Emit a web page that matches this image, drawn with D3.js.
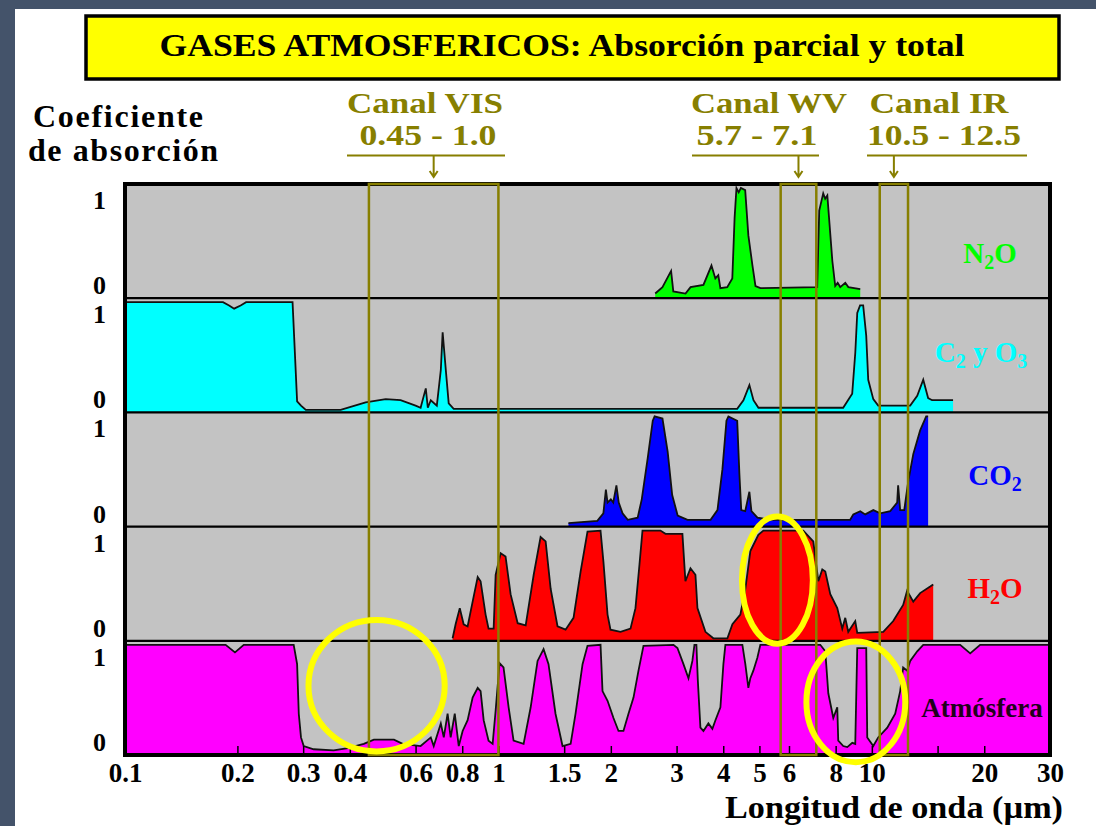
<!DOCTYPE html>
<html>
<head>
<meta charset="utf-8">
<script src="https://cdn.jsdelivr.net/npm/d3@7"></script>
<style>
body { margin: 0; background: #44536a; }
svg { display: block; font-family: "Liberation Serif", "Times New Roman", serif; font-weight: bold; }
</style>
</head>
<body>
<svg id="chart" width="1096" height="826"></svg>
<script>
// ---- data (wavelength in µm, absorption 0..1) ----
const TICK_LABELS = [0.1, 0.2, 0.3, 0.4, 0.6, 0.8, 1, 1.5, 2, 3, 4, 5, 6, 8, 10, 20, 30];
const TICK_MARKS = [0.2, 0.3, 0.4, 0.6, 0.8, 1, 1.5, 2, 3, 4, 5, 6, 8, 10, 15, 20];

const GASES = ["n2o", "o3", "co2", "h2o", "atm"];
const GAS_COLORS = ["#00ff00", "#00ffff", "#0000ff", "#ff0000", "#ff00ff"];
// label parts: [text, isSubscript]
const GAS_NAMES = [
  [["N", 0], ["2", 1], ["O", 0]],
  [["C", 0], ["2", 1], [" y O", 0], ["3", 1]],
  [["CO", 0], ["2", 1]],
  [["H", 0], ["2", 1], ["O", 0]],
  [["Atmósfera", 0]]
];

const N2O = [[2.63,0.02],[2.75,0.08],[2.9,0.23],[2.94,0.04],[3.17,0.02],[3.27,0.08],[3.54,0.10],[3.72,0.28],
  [3.81,0.16],[3.88,0.19],[3.93,0.07],[4.10,0.08],[4.23,0.16],[4.29,0.72],[4.34,1.0],[4.40,0.96],[4.46,1.0],
  [4.58,0.98],[4.67,0.56],[4.79,0.28],[4.88,0.09],[5.03,0.07],[7.14,0.08],[7.23,0.79],[7.41,0.95],[7.50,0.90],
  [7.60,0.93],[7.84,0.32],[7.98,0.09],[8.10,0.12],[8.23,0.08],[8.49,0.12],[8.65,0.08],[9.31,0.06]];

const O3 = [[0.1,1],[0.183,1],[0.19,0.97],[0.196,0.94],[0.204,0.97],[0.211,1],[0.281,1],[0.289,0.08],
  [0.296,0.04],[0.305,0],[0.378,0],[0.441,0.07],[0.499,0.10],[0.547,0.09],[0.60,0.04],[0.619,0.02],[0.639,0.20],
  [0.647,0.02],[0.659,0.09],[0.684,0.04],[0.701,0.37],[0.709,0.72],[0.723,0.37],[0.736,0.06],[0.759,0.01],
  [4.36,0.01],[4.53,0.09],[4.70,0.23],[4.82,0.09],[4.97,0.02],[8.38,0.02],[8.86,0.15],[9.03,0.53],[9.14,0.90],
  [9.3,0.97],[9.48,0.97],[9.66,0.69],[9.78,0.28],[10.09,0.10],[10.4,0.04],[12.67,0.04],[13.23,0.13],[13.73,0.28],
  [14.15,0.11],[14.5,0.09],[16.5,0.09]];

const CO2 = [[1.54,0.01],[1.84,0.03],[1.91,0.10],[1.94,0.32],[1.96,0.20],[2.0,0.23],[2.03,0.20],[2.07,0.36],
  [2.10,0.20],[2.15,0.10],[2.22,0.04],[2.36,0.06],[2.42,0.23],[2.51,0.61],[2.59,0.96],[2.62,1.0],[2.75,0.98],
  [2.84,0.67],[2.92,0.27],[3.02,0.08],[3.21,0.04],[3.70,0.04],[3.86,0.13],[3.98,0.51],[4.08,0.96],[4.13,1.0],
  [4.36,0.96],[4.42,0.46],[4.47,0.13],[4.58,0.12],[4.70,0.30],[4.76,0.12],[4.94,0.06],[5.35,0.04],[8.75,0.04],
  [8.92,0.09],[9.31,0.12],[9.60,0.09],[10.09,0.13],[10.53,0.10],[11.2,0.12],[11.69,0.20],[11.76,0.36],
  [11.91,0.13],[12.21,0.13],[12.51,0.39],[12.91,0.65],[13.47,0.87],[13.98,1.0],[14.15,1.0]];

const H2O = [[0.754,0],[0.768,0.13],[0.788,0.28],[0.807,0.13],[0.827,0.11],[0.853,0.34],[0.88,0.57],[0.896,0.53],
  [0.924,0.22],[0.941,0.09],[0.971,0.09],[0.983,0.59],[1.014,0.79],[1.045,0.76],[1.078,0.41],[1.126,0.14],
  [1.183,0.12],[1.243,0.59],[1.297,0.94],[1.338,0.90],[1.38,0.46],[1.44,0.11],[1.513,0.08],[1.589,0.19],
  [1.66,0.62],[1.732,0.99],[1.877,1.0],[1.911,0.71],[1.96,0.22],[1.996,0.08],[2.123,0.06],[2.258,0.09],
  [2.328,0.28],[2.387,0.69],[2.431,1.0],[2.716,1.0],[2.801,0.97],[3.11,0.97],[3.168,0.53],[3.268,0.65],
  [3.37,0.59],[3.412,0.28],[3.584,0.06],[3.764,0],[4.104,0],[4.233,0.13],[4.445,0.22],[4.584,0.46],[4.728,0.81],
  [4.967,0.96],[5.123,1.0],[6.553,1.0],[6.969,0.9],[7.189,0.53],[7.367,0.64],[7.505,0.62],[7.74,0.41],
  [8.08,0.28],[8.333,0.09],[8.489,0.19],[8.648,0.06],[9.028,0.16],[9.14,0.05],[10.73,0.06],[11.41,0.16],
  [12.13,0.31],[12.43,0.44],[12.91,0.34],[13.47,0.42],[14.33,0.48],[14.6,0.50]];

const ATM = [[0.1,1],[0.186,1],[0.197,0.93],[0.208,1],[0.283,1],[0.289,0.82],[0.292,0.36],[0.296,0.14],
  [0.301,0.06],[0.32,0.03],[0.362,0.02],[0.395,0.04],[0.436,0.08],[0.464,0.12],[0.525,0.12],[0.554,0.08],
  [0.619,0.06],[0.659,0.14],[0.671,0.06],[0.701,0.27],[0.714,0.14],[0.731,0.36],[0.745,0.14],[0.764,0.36],
  [0.783,0.06],[0.802,0.20],[0.827,0.30],[0.853,0.51],[0.88,0.60],[0.896,0.57],[0.913,0.30],[0.941,0.11],
  [0.965,0.08],[0.983,0.39],[1.007,0.83],[1.032,0.79],[1.065,0.42],[1.098,0.11],[1.168,0.08],[1.22,0.42],
  [1.273,0.85],[1.321,0.96],[1.362,0.82],[1.422,0.36],[1.485,0.06],[1.561,0.08],[1.609,0.36],[1.68,0.82],
  [1.732,0.99],[1.877,1.0],[1.90,0.57],[1.96,0.48],[2.033,0.32],[2.097,0.20],[2.162,0.20],[2.23,0.36],
  [2.30,0.51],[2.372,0.76],[2.446,0.99],[2.943,1.0],[3.016,0.97],[3.13,0.82],[3.228,0.69],[3.307,0.85],
  [3.349,1.0],[3.39,1.0],[3.42,0.67],[3.475,0.23],[3.54,0.20],[3.65,0.27],[3.741,0.22],[3.812,0.30],
  [3.931,0.42],[4.004,0.82],[4.053,1.0],[4.501,1.0],[4.584,0.82],[4.67,0.60],[4.728,0.69],[4.816,0.76],
  [4.937,0.88],[5.028,1.0],[7.277,1.0],[7.505,0.94],[7.646,0.55],[7.885,0.32],[8.08,0.42],[8.13,0.11],
  [8.384,0.06],[8.595,0.05],[8.863,0.09],[9.028,0.08],[9.14,0.97],[9.661,0.97],[9.721,0.14],[10.09,0.06],
  [10.4,0.14],[11.0,0.23],[11.55,0.36],[11.91,0.57],[12.13,0.79],[12.43,0.76],[12.67,0.85],[13.23,0.94],
  [13.73,1.0],[17.24,1.0],[18.34,0.92],[19.5,1.0],[30,1.0]];

const SERIES = [N2O, O3, CO2, H2O, ATM];

const CHANNELS = ["VIS", "WV", "IR"];
const CHANNEL_RANGES = [[0.45, 1.0], [5.7, 7.1], [10.5, 12.5]];
const CHANNEL_TEXT = [["Canal VIS", "0.45 - 1.0"], ["Canal WV", "5.7 - 7.1"], ["Canal IR", "10.5 - 12.5"]];

// yellow rings: panel, wavelength from, to, absorption centre, absorption radius
const HIGHLIGHTS = [["atm", 0.31, 0.718, 0.62, 0.61], ["h2o", 4.49, 6.95, 0.54, 0.59], ["atm", 6.68, 12.29, 0.47, 0.56]];

// ---- layout ----
const PLOT = { left: 125, right: 1050, top: 184, bottom: 755 };
const OLIVE = "#877f00";

const svg = d3.select("#chart");

svg.append("rect").attr("width", 1096).attr("height", 826).attr("fill", "#44536a");
svg.append("rect").attr("x", 15).attr("y", 9).attr("width", 1081).attr("height", 817).attr("fill", "#fff");

const x = d3.scaleLog().domain([0.1, 30]).range([PLOT.left, PLOT.right]);
const band = d3.scaleBand().domain(GASES).range([PLOT.top, PLOT.bottom]);
const H = band.bandwidth();
const yFor = g => d3.scaleLinear().domain([0, 1]).range([band(g) + H - 2.5, band(g) + 4]);

//Title
svg.append("rect")
  .attr("x", 86).attr("y", 16).attr("width", 973).attr("height", 63)
  .attr("fill", "#ffff00").attr("stroke", "#000").attr("stroke-width", 3.5);
svg.append("text")
  .attr("x", 562).attr("y", 56)
  .attr("text-anchor", "middle")
  .attr("font-size", 32)
  .attr("textLength", 805).attr("lengthAdjust", "spacingAndGlyphs")
  .text("GASES ATMOSFERICOS: Absorción parcial y total");

//Y title
svg.append("text").attr("x", 118).attr("y", 127).attr("text-anchor", "middle")
  .attr("font-size", 32).attr("textLength", 170).text("Coeficiente");
svg.append("text").attr("x", 123).attr("y", 161).attr("text-anchor", "middle")
  .attr("font-size", 32).attr("textLength", 190).text("de absorción");

//Panels
GASES.forEach((g, i) => {
  const top = band(g), y = yFor(g);
  const panel = svg.append("g");
  panel.append("clipPath").attr("id", "clip-" + g)
    .append("rect").attr("x", PLOT.left).attr("y", top).attr("width", PLOT.right - PLOT.left).attr("height", H);
  panel.append("rect")
    .attr("x", PLOT.left).attr("y", top).attr("width", PLOT.right - PLOT.left).attr("height", H)
    .attr("fill", "#c3c3c3");

  const inner = panel.append("g").attr("clip-path", `url(#clip-${g})`);
  inner.append("path")
    .datum(SERIES[i])
    .attr("fill", GAS_COLORS[i])
    .attr("d", d3.area().x(d => x(d[0])).y0(top + H).y1(d => y(d[1])));
  inner.append("path")
    .datum(SERIES[i])
    .attr("fill", "none").attr("stroke", "#111").attr("stroke-width", 1.8)
    .attr("d", d3.line().x(d => x(d[0])).y(d => y(d[1])));

  // 1 / 0 labels
  panel.append("text").attr("x", 106).attr("y", top + 25).attr("text-anchor", "end")
    .attr("font-size", 26).text("1");
  panel.append("text").attr("x", 106).attr("y", top + H - 4).attr("text-anchor", "end")
    .attr("font-size", 26).text("0");

  if (i > 0) {
    svg.append("line")
      .attr("x1", PLOT.left).attr("x2", PLOT.right).attr("y1", top).attr("y2", top)
      .attr("stroke", "#000").attr("stroke-width", 2.2);
  }
});

// inner ticks at the bottom
svg.append("g")
  .attr("transform", `translate(0, ${PLOT.bottom - 2})`)
  .call(d3.axisBottom(x).tickValues(TICK_MARKS).tickSize(-7).tickFormat(""))
  .call(g => g.select(".domain").remove())
  .selectAll("line").attr("stroke", "#000").attr("stroke-width", 1.5);

// outer border
svg.append("rect")
  .attr("x", PLOT.left).attr("y", PLOT.top)
  .attr("width", PLOT.right - PLOT.left).attr("height", PLOT.bottom - PLOT.top)
  .attr("fill", "none").attr("stroke", "#000").attr("stroke-width", 4);

// Gas labels
const LABEL_POS = [[990, 79], [981, 64], [995, 73], [995, 71], [982, 76]];
GASES.forEach((g, i) => {
  const t = svg.append("text")
    .attr("x", LABEL_POS[i][0]).attr("y", band(g) + LABEL_POS[i][1])
    .attr("text-anchor", "middle")
    .attr("font-size", i === 4 ? 27 : 29)
    .attr("fill", i === 4 ? "#22001c" : GAS_COLORS[i]);
  GAS_NAMES[i].forEach(([s, sub]) => {
    t.append("tspan")
      .attr("font-size", sub ? 20 : null)
      .attr("baseline-shift", sub ? "-6" : null)
      .text(s);
  });
});

//Channels
const HEADER = [
  { line: [347, 505], t1: 425, t2: 428, w1: 156, w2: 137 },
  { line: [692, 819], t1: 769, t2: 757, w1: 156, w2: 121 },
  { line: [867, 1027], t1: 939, t2: 944, w1: 139, w2: 154 }
];
CHANNELS.forEach((c, i) => {
  const [a, b] = CHANNEL_RANGES[i];
  const x0 = x(a), x1 = x(b), xm = (x0 + x1) / 2;
  svg.append("rect")
    .attr("x", x0).attr("y", PLOT.top).attr("width", x1 - x0).attr("height", PLOT.bottom - PLOT.top)
    .attr("fill", "none").attr("stroke", OLIVE).attr("stroke-width", 2.5);

  const h = HEADER[i];
  svg.append("text").attr("x", h.t1).attr("y", 113).attr("text-anchor", "middle")
    .attr("font-size", 30).attr("fill", OLIVE)
    .attr("textLength", h.w1).attr("lengthAdjust", "spacingAndGlyphs")
    .text(CHANNEL_TEXT[i][0]);
  svg.append("text").attr("x", h.t2).attr("y", 145).attr("text-anchor", "middle")
    .attr("font-size", 30).attr("fill", OLIVE)
    .attr("textLength", h.w2).attr("lengthAdjust", "spacingAndGlyphs")
    .text(CHANNEL_TEXT[i][1]);
  svg.append("line")
    .attr("x1", h.line[0]).attr("x2", h.line[1]).attr("y1", 155.5).attr("y2", 155.5)
    .attr("stroke", OLIVE).attr("stroke-width", 2);
  svg.append("path")
    .attr("d", `M${xm},156V177M${xm - 4},171L${xm},177L${xm + 4},171`)
    .attr("fill", "none").attr("stroke", OLIVE).attr("stroke-width", 2);
});

//Highlight rings
HIGHLIGHTS.forEach(([g, a, b, v, r]) => {
  const y = yFor(g);
  const cx = (x(a) + x(b)) / 2, rx = (x(b) - x(a)) / 2;
  svg.append("ellipse")
    .attr("cx", cx).attr("cy", y(v))
    .attr("rx", rx).attr("ry", y(0) - y(r))
    .attr("fill", "none").attr("stroke", "#ffff00").attr("stroke-width", 6);
});

// X axis labels
svg.append("g")
  .attr("transform", `translate(0, ${PLOT.bottom})`)
  .call(d3.axisBottom(x).tickValues(TICK_LABELS).tickSize(0).tickFormat(d => String(d)))
  .call(g => g.select(".domain").remove())
  .selectAll("text")
  .attr("y", 27).attr("dy", 0)
  .attr("fill", "#000")
  .attr("font-family", "Liberation Serif, serif")
  .attr("font-weight", "bold")
  .attr("font-size", 27);

svg.append("text")
  .attr("x", 1063).attr("y", 818)
  .attr("text-anchor", "end")
  .attr("font-size", 32)
  .attr("textLength", 338).attr("lengthAdjust", "spacingAndGlyphs")
  .text("Longitud de onda (µm)");
</script>
</body>
</html>
